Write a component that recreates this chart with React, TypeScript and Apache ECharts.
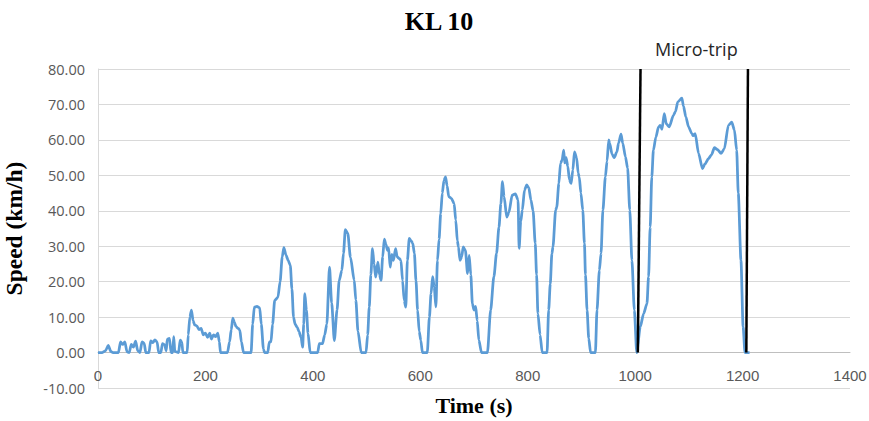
import React, { useEffect, useRef } from "react";
import * as echarts from "echarts";

const chartTitle = "KL 10";
const xAxisName = "Time (s)";
const yAxisName = "Speed (km/h)";
const microTripLabel = "Micro-trip";

const xTicks = { min: 0, max: 1400, interval: 200 };
const yTicks = { min: -10, max: 80, interval: 10 };

// [time (s), speed (km/h)]
const speedTrace: [number, number][] = [
  [0, 0], [8, 0], [14, 0.5], [19, 2], [24, 0.3], [28, 0], [38, 0], [42, 3], [46, 2.3], [50, 3], [54, 0.2],
  [58, 0], [62, 2.3], [66, 1.5], [70, 3.2], [74, 0.5], [78, 0], [82, 3], [86, 2.6], [89, 0], [95, 0],
  [98, 3.3], [102, 2.8], [106, 3.6], [110, 3.0], [113, 0], [117, 0], [120, 2.5], [124, 2.2], [127, 0.5],
  [129, 3.8], [133, 4], [136, 0], [139, 0], [141, 4.5], [143, 0.3], [150, 0], [153, 3.5], [156, 3],
  [158, 0], [166, 0], [168, 5], [171, 10], [174, 12], [177, 9], [180, 7.8], [184, 7.5], [188, 6.5],
  [192, 6.8], [196, 5], [200, 5.5], [204, 4.3], [208, 5.5], [211, 3.8], [215, 5], [219, 4.5], [223, 5.5],
  [226, 3], [228, 0], [241, 0], [245, 3], [248, 6.4], [251, 9.7], [254, 8.5], [257, 7.3], [261, 6.8],
  [264, 6.3], [267, 3], [271, 0], [285, 0], [288, 8], [291, 12.8], [296, 13], [301, 12.6], [304, 8],
  [308, 1], [310, 0], [316, 0], [319, 3], [322, 3], [325, 8], [329, 14.7], [335, 15.6], [339, 20],
  [343, 27], [346, 29.6], [350, 27.5], [354, 26], [358, 24.6], [361, 18], [364, 10], [367, 8],
  [371, 7.1], [374, 6], [378, 4.3], [381, 1.5], [383, 8], [385, 16.6], [388, 12], [391, 5.4], [395, 0],
  [409, 0], [412, 2.5], [418, 2.5], [422, 5], [426, 8], [431, 24.1], [435, 14], [440, 3.4], [445, 12],
  [449, 20.3], [454, 23.2], [457, 28], [460.5, 34.7], [465, 33.6], [470, 26.9], [477, 20.4], [480, 14.8],
  [484, 6], [490, 0], [499, 0], [502, 5], [505, 12.8], [508, 22], [511, 29.3], [514, 25], [517, 21.3],
  [521, 25.5], [524, 22], [527, 20.4], [530, 27], [533, 32], [536, 30.5], [539, 28.8], [541, 29.5],
  [544, 24.1], [547, 27.7], [550, 26], [554, 29.3], [557, 27], [561, 26.5], [564, 26], [567, 20.3],
  [570, 14.7], [573, 12.8], [576, 26], [579.5, 32.2], [583, 31.5], [586, 30.8], [589, 28], [592, 20.3],
  [595, 12], [598, 6], [601, 3.4], [604, 0], [613, 0], [617, 10], [620, 16.6], [623, 21.4], [626, 18.5],
  [629, 12.9], [632, 26], [635, 32], [638, 39.2], [641, 45], [644, 48.5], [647, 49.6], [650, 47],
  [653, 44], [658, 43.5], [663, 42], [666, 37.4], [669, 31.5], [671, 29.8], [674, 26], [677, 27],
  [680, 29.8], [684, 28.8], [688, 22.3], [691, 27.4], [694, 22], [697, 13.8], [700, 12], [703, 13],
  [706, 9], [709, 3.5], [714, 0], [725, 0], [731, 12], [737, 21.4], [742, 28], [746.5, 35.4], [750, 42],
  [753, 48.2], [756, 44], [761, 38.2], [765, 39.5], [771, 44.4], [777, 44.8], [782, 43], [784, 29.4],
  [787, 37], [790, 40.2], [794, 45.8], [798, 47.3], [802, 46.5], [806, 43], [810, 40], [814, 30.8],
  [816.5, 22], [819, 11], [823, 5], [827, 0], [836, 0], [839, 12], [842, 19.4], [845, 27.9], [847, 29.8],
  [852, 40.2], [854, 41], [858, 47.7], [861, 53.4], [864, 54.3], [867, 57.1], [869, 53.5], [871.5, 55],
  [874.6, 52.5], [877.7, 48.7], [880.8, 47.7], [884, 51.5], [887, 56.6], [891, 55], [894, 50.6],
  [896, 49.5], [899, 45], [902.5, 40.2], [905.6, 30.8], [907.5, 22], [910.5, 12], [913.6, 4], [917, 0],
  [926, 0], [929, 12], [933.4, 23.2], [936.5, 28], [940, 40.2], [944.6, 49.6], [947.7, 54], [950.8, 60],
  [952.6, 59], [957, 56], [961, 55], [966, 56.6], [969, 59], [973.7, 61.6], [977, 59], [982, 55.2],
  [986, 52], [990, 40.2], [994, 26], [998.5, 12], [1003, 0], [1009.6, 7.3], [1015.8, 11], [1022, 13.8],
  [1025, 21.4], [1028, 35.4], [1031, 49.6], [1034, 57.1], [1038.6, 60.8], [1043.6, 63.7], [1046.7, 64.1],
  [1050, 63], [1054.2, 67.4], [1058, 64.5], [1063.5, 63.7], [1071.5, 67], [1075, 68], [1079.5, 70.7],
  [1087, 71.8], [1090, 69.5], [1094.4, 66.5], [1099.4, 63.7], [1105.5, 61.8], [1108, 61.2],
  [1111.8, 61.8], [1118, 56.2], [1125.4, 51.9], [1130, 53.2], [1136.5, 54.7], [1142, 55.8],
  [1147.7, 57.8], [1153, 57.3], [1160, 56.2], [1166, 57.5], [1173.6, 64.1], [1179.8, 65], [1184.8, 62.8],
  [1189, 57.1], [1192, 45], [1197, 26], [1201, 7.3], [1204.5, 0], [1213, 0],
];

// micro-trip boundary lines: [bottom point, top point]
const microTripStart: [number, number][] = [[1005, 0], [1010, 80]];
const microTripEnd: [number, number][] = [[1207, 0], [1210, 80]];

export default function App() {
  const ref = useRef<HTMLDivElement>(null);

  useEffect(() => {
    if (!ref.current) return;
    const chart = echarts.init(ref.current, null, { renderer: "svg" });
    const serif = "'Liberation Serif', 'DejaVu Serif', serif";
    const sans = "'Open Sans', 'Liberation Sans', sans-serif";
    const narrow = "'Liberation Sans Narrow', 'Liberation Sans', sans-serif";
    // grid 0 : full plot (-10 .. 80); grid 1 : same width, bottom edge at speed = 0,
    // carrying the time axis (Excel-style axis crossing at zero)
    const plotTop = 69;
    const plotBottom = 33;
    const zeroBottom = 69;
    chart.setOption({
      animation: false,
      backgroundColor: "#ffffff",
      title: {
        text: chartTitle,
        left: 434,
        top: 3,
        textAlign: "center",
        textStyle: { fontFamily: serif, fontWeight: "bold", fontSize: 26, color: "#000" },
      },
      grid: [
        { left: 98, right: 19, top: plotTop, bottom: plotBottom, outerBoundsMode: "none", containLabel: false },
        { left: 98, right: 19, top: plotTop, bottom: zeroBottom, outerBoundsMode: "none", containLabel: false },
      ],
      xAxis: [
        {
          gridIndex: 0,
          type: "value",
          min: xTicks.min,
          max: xTicks.max,
          interval: xTicks.interval,
          axisLine: { show: false },
          axisTick: { show: false },
          splitLine: { show: false },
          axisLabel: { show: false },
        },
        {
          gridIndex: 1,
          type: "value",
          min: xTicks.min,
          max: xTicks.max,
          interval: xTicks.interval,
          name: xAxisName,
          nameLocation: "middle",
          nameGap: 42,
          nameTextStyle: { fontFamily: serif, fontWeight: "bold", fontSize: 22, color: "#000" },
          axisLine: { show: true, onZero: false, lineStyle: { color: "#BFBFBF", width: 1 } },
          axisTick: { show: false },
          splitLine: { show: false },
          axisLabel: {
            margin: 16,
            fontFamily: narrow,
            fontSize: 15,
            color: "#595959",
            formatter: (v: number) => String(v),
          },
        },
      ],
      yAxis: [
        {
          gridIndex: 0,
          type: "value",
          min: yTicks.min,
          max: yTicks.max,
          interval: yTicks.interval,
          name: yAxisName,
          nameLocation: "middle",
          nameGap: 72,
          nameTextStyle: { fontFamily: serif, fontWeight: "bold", fontSize: 23.5, color: "#000" },
          axisLine: { show: true, onZero: false, lineStyle: { color: "#D9D9D9", width: 1 } },
          axisTick: { show: false },
          splitLine: { show: true, lineStyle: { color: "#D9D9D9", width: 1 } },
          axisLabel: {
            margin: 13,
            fontFamily: sans,
            fontSize: 14.5,
            color: "#595959",
            formatter: (v: number) => v.toFixed(2),
          },
        },
        {
          gridIndex: 1,
          type: "value",
          min: 0,
          max: yTicks.max,
          show: false,
        },
      ],
      graphic: [
        {
          type: "text",
          left: 655,
          top: 40,
          style: { text: microTripLabel, fontFamily: sans, fontSize: 18, fill: "#262626" },
        },
      ],
      series: [
        {
          type: "line",
          xAxisIndex: 0,
          yAxisIndex: 0,
          data: speedTrace,
          showSymbol: false,
          smooth: 0.25,
          smoothMonotone: "x",
          lineStyle: { color: "#5B9BD5", width: 2.75 },
          z: 3,
        },
        {
          type: "line",
          xAxisIndex: 0,
          yAxisIndex: 0,
          data: microTripStart,
          showSymbol: false,
          lineStyle: { color: "#000", width: 2.5 },
          z: 4,
        },
        {
          type: "line",
          xAxisIndex: 0,
          yAxisIndex: 0,
          data: microTripEnd,
          showSymbol: false,
          lineStyle: { color: "#000", width: 2.5 },
          z: 4,
        },
      ],
    });
    return () => chart.dispose();
  }, []);

  return <div ref={ref} style={{ width: 869, height: 421, position: "absolute", left: 0, top: 0 }} />;
}
